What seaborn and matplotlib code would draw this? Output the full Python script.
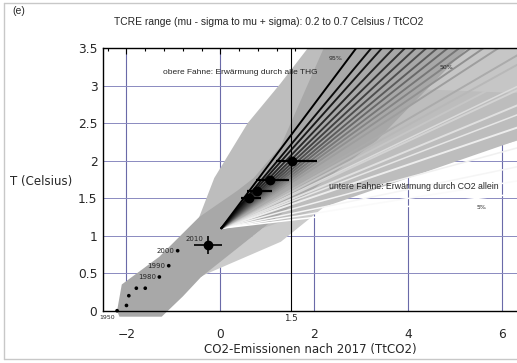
import matplotlib
matplotlib.use("Agg")
import matplotlib.pyplot as plt
import seaborn as sns
import pandas as pd
from matplotlib.lines import Line2D
from matplotlib.patches import Polygon
from matplotlib.ticker import MultipleLocator, FormatStrFormatter

sns.set_theme(style="white")
plt.rcParams['font.family'] = ['DejaVu Sans']

# ---- data -----------------------------------------------------------------
# historical cumulative emissions (relative to 2017) and observed warming
hist_x = [-2.2, -2.0, -1.95, -1.79, -1.6, -1.3, -1.1, -0.91]
hist_y = [0.0, 0.07, 0.2, 0.3, 0.3, 0.45, 0.6, 0.8]
hist_lbl = ["1950", "", "", "", "", "1980", "1990", "2000"]

# 2010 estimate with its uncertainty
obs_x, obs_y = -0.26, 0.87
obs_xerr = [0.30, 0.30]
obs_yerr = [0.11, 0.13]

# future warming levels with emission ranges
fut_x = [0.61, 0.79, 1.06, 1.52]
fut_y = [1.50, 1.60, 1.75, 2.00]
fut_lo = [0.43, 0.57, 0.75, 1.19]
fut_hi = [0.87, 1.11, 1.47, 2.05]

# common origin of both fans
fan_x0, fan_y0 = 0.02, 1.10
# upper fan (all greenhouse gases): warming per TtCO2, percentiles 95 .. 5
ghg_pct = [95, 90, 85, 80, 75, 70, 65, 60, 55, 50, 45, 40, 35, 30, 25, 20, 15, 10, 5]
ghg_rate = [0.836, 0.752, 0.702, 0.654, 0.614, 0.580, 0.550, 0.522, 0.498, 0.474,
            0.452, 0.430, 0.407, 0.366, 0.346, 0.324, 0.292, 0.260, 0.213]
# lower fan (CO2 only)
co2_pct = [40, 30, 20, 15, 10, 5]
co2_rate = [0.30, 0.24, 0.17, 0.13, 0.10, 0.073]

# shaded envelopes
band_x = [-2.2, -2.15, -1.25, -0.8, -0.41, 0.9, 3.33, 5.25, 2.2, 1.28, 0.71, 0.36, -0.45, -1.3, -2.1]
band_y = [0.0, -0.08, -0.08, 0.19, 0.45, 1.1, 2.27, 3.5, 3.5, 2.19, 1.77, 1.6, 1.25, 0.72, 0.35]
upper_x = [-0.45, -0.13, 0.58, 1.28, 1.86, 6.45, 6.45, 0.9, -0.41]
upper_y = [1.25, 1.77, 2.5, 3.03, 3.5, 3.5, 2.3, 1.1, 0.45]
lowa_x = [-0.41, 1.29, 3.19, 6.45, 6.45, 0.9]
lowa_y = [0.46, 0.92, 1.88, 3.0, 3.5, 1.1]
lowb_x = [1.71, 6.45, 6.45, 1.2]
lowb_y = [1.45, 2.29, 3.2, 1.35]
right_x = [5.25, 6.45, 6.45, 4.4]
right_y = [3.5, 3.5, 2.9, 2.95]

# ---- figure ---------------------------------------------------------------
W, H = 517, 363
fig = plt.figure(figsize=(W / 100, H / 100), dpi=100)
fig.patch.set_facecolor("white")
ax = fig.add_axes([103 / W, 1 - 310.7 / H, 420.2 / W, 262.4 / H])
ax.set_facecolor("white")
ax.set_xlim(-2.5, 6.45)
ax.set_ylim(0, 3.5)

# grid
for gx in [-2, 0, 2, 4, 6]:
    ax.axvline(gx, color="#6a6aa8", lw=0.8, zorder=0.5)
for gy in [0.5, 1, 1.5, 2, 2.5, 3]:
    ax.axhline(gy, color="#8a8ac0", lw=0.7, zorder=0.5)

# envelopes
ax.add_patch(Polygon(list(zip(lowa_x, lowa_y)), closed=True, fc="#cbcbcb", ec="none", zorder=1))
ax.add_patch(Polygon(list(zip(lowb_x, lowb_y)), closed=True, fc="#d3d3d3", ec="none", zorder=1.1))
ax.add_patch(Polygon(list(zip(upper_x, upper_y)), closed=True, fc="#bdbdbd", ec="none", zorder=1.2))
ax.add_patch(Polygon(list(zip(right_x, right_y)), closed=True, fc="#c6c6c6", ec="none", zorder=1.3))
ax.add_patch(Polygon(list(zip(band_x, band_y)), closed=True, fc="#a8a8a8", ec="none",
                     zorder=1.4, clip_on=False))

# fan lines
xe = 6.45
for p, r in zip(co2_pct, co2_rate):
    g = 0.86 + 0.14 * (40 - p) / 35
    ax.plot([fan_x0, xe], [fan_y0, fan_y0 + r * (xe - fan_x0)], color=str(g), lw=1.1, zorder=2)
for p, r in list(zip(ghg_pct, ghg_rate))[::-1]:
    g = (95 - p) / 90 * 0.93
    ax.plot([fan_x0, xe], [fan_y0, fan_y0 + r * (xe - fan_x0)], color=str(g), lw=1.4, zorder=2.1)

# 1.5 marker line
ax.axvline(1.5, color="black", lw=0.8, zorder=3)

# historical points
hist = pd.DataFrame({"x": hist_x, "y": hist_y})
sns.scatterplot(data=hist, x="x", y="y", ax=ax, color="black", s=7, edgecolor="none",
                zorder=5, clip_on=False, legend=False)
for x, y, t in zip(hist_x, hist_y, hist_lbl):
    if t == "1950":
        ax.text(x - 0.05, y - 0.06, t, fontsize=4.5, ha="right", va="top", zorder=6)
    elif t:
        ax.text(x - 0.07, y, t, fontsize=5, ha="right", va="center", zorder=6)

ax.errorbar([obs_x], [obs_y], xerr=[[obs_xerr[0]], [obs_xerr[1]]], yerr=[[obs_yerr[0]], [obs_yerr[1]]],
            fmt="o", color="black", ms=6, lw=1.2, capsize=0, zorder=6)
ax.text(obs_x - 0.1, obs_y + 0.05, "2010", fontsize=5, ha="right", va="bottom", zorder=6)

fut_xerr = [[x - lo for x, lo in zip(fut_x, fut_lo)], [hi - x for x, hi in zip(fut_x, fut_hi)]]
ax.errorbar(fut_x, fut_y, xerr=fut_xerr, fmt="o", color="black", ms=6, lw=1.6, capsize=0, zorder=6)

# annotations
ax.text(-1.22, 3.18, "obere Fahne: Erwärmung durch alle THG", fontsize=6,
        family=["Liberation Sans"], va="center", ha="left", zorder=7)
ax.text(2.32, 1.65, "untere Fahne: Erwärmung durch CO2 allein", fontsize=6.3,
        family=["Liberation Sans"], va="center", ha="left", zorder=7)
ax.text(2.45, 3.36, "95%", fontsize=4.5, ha="center", va="center", zorder=7)
ax.text(4.81, 3.25, "50%", fontsize=4.5, ha="center", va="center", zorder=7)
ax.text(5.57, 1.37, "5%", fontsize=4.5, ha="center", va="center", zorder=7)
ax.text(1.5, -0.05, "1.5", fontsize=6.3, ha="center", va="top", zorder=7)

# axes styling
ax.xaxis.set_major_locator(MultipleLocator(2))
ax.xaxis.set_minor_locator(MultipleLocator(0.4))
ax.yaxis.set_major_locator(MultipleLocator(0.5))
ax.yaxis.set_minor_locator(MultipleLocator(0.1))
ax.yaxis.set_major_formatter(FormatStrFormatter("%g"))
ax.tick_params(which="both", direction="in", top=True, right=False, color="black", width=0.8)
ax.tick_params(which="major", length=4, labelsize=8.8)
ax.tick_params(which="minor", length=2.5)
ax.tick_params(axis="x", pad=12.5)
ax.tick_params(axis="y", pad=4)
for s in ["left", "bottom", "top"]:
    ax.spines[s].set_visible(True)
    ax.spines[s].set_color("black")
    ax.spines[s].set_linewidth(1)
    ax.spines[s].set_zorder(8)
ax.spines["right"].set_visible(False)
ax.set_xlabel("")
ax.set_ylabel("")

fig.text(310 / W, 1 - 350 / H, "CO2-Emissionen nach 2017 (TtCO2)", fontsize=8.5, ha="center", va="center")
fig.text(10 / W, 1 - 181 / H, "T (Celsius)", fontsize=8.5, ha="left", va="center")
fig.text(269 / W, 1 - 22 / H, "TCRE range (mu - sigma to mu + sigma): 0.2 to 0.7 Celsius / TtCO2",
         fontsize=7.4, family=["Liberation Sans"], ha="center", va="center")
fig.text(12 / W, 1 - 11 / H, "(e)", fontsize=7.5, family=["Liberation Sans"], ha="left", va="center")

# outer frame
fc = "#c8c8c8"
fig.add_artist(Line2D([4 / W, 4 / W], [1 - 3 / H, 1 - 359 / H], transform=fig.transFigure, color=fc, lw=1))
fig.add_artist(Line2D([4 / W, 1.0], [1 - 3 / H, 1 - 3 / H], transform=fig.transFigure, color=fc, lw=1))
fig.add_artist(Line2D([4 / W, 1.0], [1 - 359 / H, 1 - 359 / H], transform=fig.transFigure, color=fc, lw=1))

fig.savefig("out.png", dpi=100)
